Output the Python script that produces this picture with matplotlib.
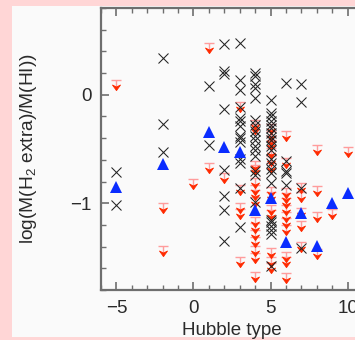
import matplotlib
matplotlib.use("Agg")
import matplotlib.pyplot as plt
from matplotlib.path import Path
from matplotlib.patches import Rectangle

# --- Data (Hubble type vs log(M(H2 extra)/M(HI))) ---
# detections (crosses)
cross_t = [-5, -5,
           -2, -2, -2,
           1, 1,
           2, 2, 2, 2, 2, 2, 2, 2,
           3, 3, 3, 3, 3, 3, 3, 3, 3, 3, 3, 3, 3, 3,
           4, 4, 4, 4, 4, 4, 4, 4, 4, 4, 4, 4, 4, 4, 4, 4,
           5, 5, 5, 5, 5, 5, 5, 5, 5, 5, 5, 5, 5, 5, 5, 5, 5, 5, 5, 5, 5, 5,
           6, 6, 6, 6, 6,
           7, 7, 7, 7]
cross_v = [-0.71, -1.02,
           0.34, -0.27, -0.53,
           0.08, -0.46,
           0.47, 0.22, 0.19, -0.13, -0.69, -0.93, -1.06, -1.35,
           0.48, 0.14, 0.04, -0.11, -0.21, -0.24, -0.29, -0.38, -0.40, -0.44,
           -0.59, -0.63, -0.86, -1.22,
           0.20, 0.17, 0.10, 0.06, -0.03, -0.23, -0.28, -0.33, -0.38, -0.42,
           -0.47, -0.51, -0.56, -0.70, -0.74, -0.99,
           -0.05, -0.17, -0.20, -0.24, -0.28, -0.31, -0.35, -0.39, -0.42, -0.47,
           -0.51, -0.59, -0.63, -0.68, -0.72, -0.81, -1.15, -1.17, -1.21, -1.25,
           -1.28, -1.58,
           0.11, -0.61, -0.70, -0.72, -0.83,
           0.10, -0.07, -0.86, -1.41]

# upper limits (red arrows)
lim_t = [-5,
         -2, -2,
         0,
         1, 1,
         2,
         3, 3, 3, 3, 3,
         4, 4, 4, 4, 4, 4, 4, 4, 4, 4, 4, 4, 4, 4, 4,
         5, 5, 5, 5, 5, 5, 5, 5, 5, 5, 5, 5, 5, 5,
         6, 6, 6, 6, 6, 6, 6, 6, 6, 6, 6, 6,
         7, 7, 7, 7, 7,
         8, 8, 8, 8,
         9,
         10]
lim_v = [0.14,
         -1.00, -1.39,
         -0.78,
         0.48, -0.63,
         -0.72,
         -0.07, -0.83, -1.00, -1.05, -1.50,
         -0.23, -0.27, -0.61, -0.65, -0.77, -0.83, -0.88, -0.94, -1.13, -1.18,
         -1.25, -1.31, -1.39, -1.46, -1.63,
         -0.27, -0.33, -0.38, -0.42, -0.49, -0.56, -0.63, -0.85, -0.90, -1.02,
         -1.06, -1.41, -1.50, -1.55,
         -0.33, -0.58, -0.86, -0.91, -0.95, -1.02, -1.08, -1.14, -1.20, -1.45,
         -1.50, -1.64,
         -0.81, -0.90, -1.04, -1.16, -1.36,
         -0.46, -0.84, -1.08, -1.42,
         -1.05,
         -0.48]

# blue triangles
tri_t = [-5, -2, 1, 2, 3, 4, 5, 6, 7, 8, 9, 10]
tri_v = [-0.85, -0.64, -0.34, -0.48, -0.53, -1.06, -0.95, -1.36, -1.09, -1.39, -1.00, -0.91]

plt.rcParams['font.family'] = ['Liberation Sans', 'DejaVu Sans']
plt.rcParams['mathtext.fontset'] = 'custom'
plt.rcParams['mathtext.rm'] = 'Liberation Sans'

fig = plt.figure(figsize=(3.55, 3.4), dpi=100, facecolor='#ffd6d6')
# light panel behind the plot
fig.patches.append(Rectangle((12 / 355, 3 / 340), 1, 331 / 340,
                             transform=fig.transFigure, facecolor='#fafafa',
                             edgecolor='none', zorder=-10))

ax = fig.add_axes([101 / 355, 50 / 340, 262 / 355, 282 / 340])
ax.set_facecolor('none')
ax.set_zorder(5)

# upper-limit marker: pink bar + stem, red notched arrowhead
bar_path = Path([(-1, 0), (1, 0), (0, 0), (0, -2.0)],
                [Path.MOVETO, Path.LINETO, Path.MOVETO, Path.LINETO])
head_path = Path([(-0.8, -0.9), (0, -1.3), (0.8, -0.9), (0, -2.0), (-0.8, -0.9)],
                 [Path.MOVETO, Path.LINETO, Path.LINETO, Path.LINETO, Path.CLOSEPOLY])

ax.plot(lim_t, lim_v, ls='none', marker=bar_path, ms=14.5, mew=1.0,
        mec='#ff9c9c', mfc='none', zorder=2)
ax.plot(lim_t, lim_v, ls='none', marker=head_path, ms=14.5, mew=0.6,
        mec='#ff2a00', mfc='#ff2a00', zorder=3)
ax.plot(cross_t, cross_v, ls='none', marker='x', ms=7, mew=0.75,
        color='#222222', zorder=4)
ax.plot(tri_t, tri_v, ls='none', marker='^', ms=9, mew=0,
        color='#0a2cff', zorder=5)

ax.set_xlim(-6, 11)
ax.set_ylim(-1.8, 0.8)
ax.set_xticks([-5, 0, 5, 10])
ax.set_xticks(range(-6, 12), minor=True)
ax.set_yticks([-1, 0])
ax.set_yticks([-1.8, -1.6, -1.4, -1.2, -0.8, -0.6, -0.4, -0.2, 0.2, 0.4, 0.6, 0.8], minor=True)

for s in ax.spines.values():
    s.set_color('#6e6e6e')
    s.set_linewidth(1.6)
ax.spines['right'].set_visible(False)

ax.tick_params(which='both', direction='in', top=True, right=False,
               color='#6e6e6e', labelsize=13.5, labelcolor='#2a2a2a')
ax.tick_params(which='major', length=6, width=1.2, pad=7)
ax.tick_params(which='minor', length=3.5, width=1.0)

ax.set_xlabel('Hubble type', fontsize=13.5, color='#2a2a2a', labelpad=4)
ax.set_ylabel('log(M(H$_2$ extra)/M(HI))', fontsize=13.8, color='#2a2a2a', labelpad=22)

fig.savefig('out.png', dpi=100, facecolor=fig.get_facecolor())
